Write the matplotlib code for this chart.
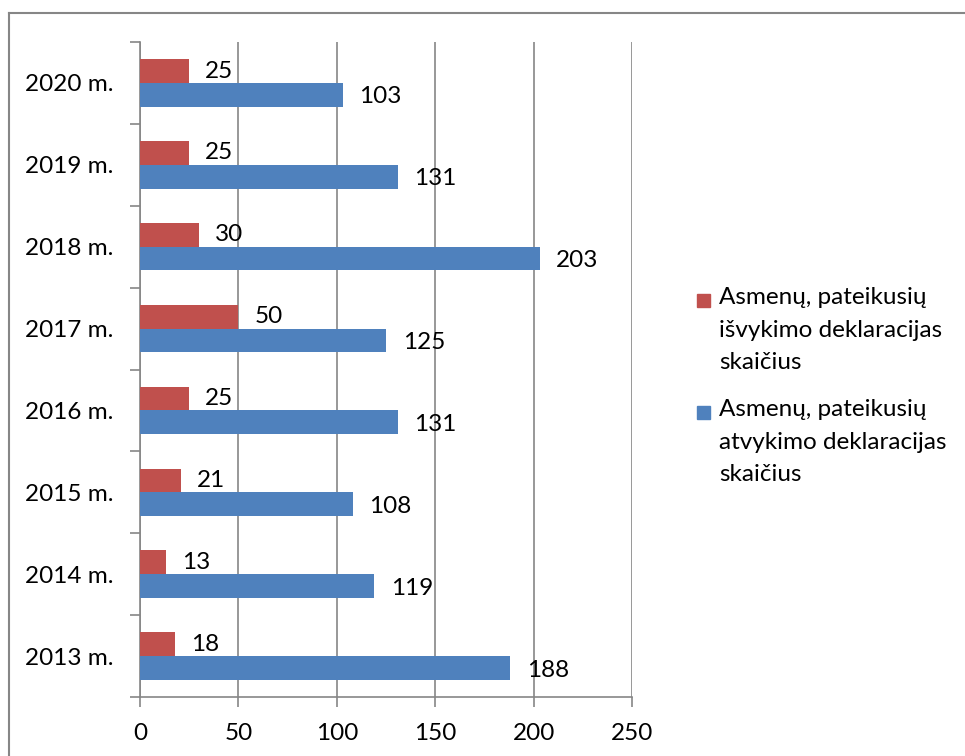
import matplotlib
matplotlib.use("Agg")
import matplotlib.pyplot as plt
import numpy as np
from matplotlib.patches import Rectangle
from matplotlib.lines import Line2D

plt.rcParams['font.family'] = ['Lato', 'DejaVu Sans']

years = ["2013 m.", "2014 m.", "2015 m.", "2016 m.", "2017 m.", "2018 m.", "2019 m.", "2020 m."]
isvykimo = [18, 13, 21, 25, 50, 30, 25, 25]
atvykimo = [188, 119, 108, 131, 125, 203, 131, 103]
legend_labels = ["Asmenų, pateikusių\nišvykimo deklaracijas\nskaičius",
                 "Asmenų, pateikusių\natvykimo deklaracijas\nskaičius"]
xticks = [0, 50, 100, 150, 200, 250]

red = "#C0504D"
blue = "#4F81BD"
grid_c = "#868686"
FS = 17.5

W, H = 965, 756
fig = plt.figure(figsize=(W / 100, H / 100), dpi=100)
# outer border
fig.add_artist(Line2D([9 / W, 9 / W], [0, 1 - 13 / H], color="#868686", lw=1.5, transform=fig.transFigure))
fig.add_artist(Line2D([9 / W, 1], [1 - 13 / H, 1 - 13 / H], color="#868686", lw=1.5, transform=fig.transFigure))

ax = fig.add_axes([140 / W, 1 - 697 / H, (632 - 140) / W, (697 - 42) / H])
y = np.arange(len(years))
h = 0.29
ax.barh(y + h / 2, isvykimo, height=h, color=red, zorder=3)
ax.barh(y - h / 2, atvykimo, height=h, color=blue, zorder=3)

for yi, v in zip(y, isvykimo):
    ax.annotate(str(v), (v, yi + h / 2), xytext=(11.5, 0), textcoords="offset points",
                va="center", ha="left", fontsize=FS)
for yi, v in zip(y, atvykimo):
    ax.annotate(str(v), (v, yi - h / 2), xytext=(12, -1.5), textcoords="offset points",
                va="center", ha="left", fontsize=FS)

ax.set_xlim(0, 250)
ax.set_ylim(-0.5, len(years) - 0.5)
ax.set_xticks(xticks)
ax.set_xticklabels([str(t) for t in xticks], fontsize=FS)
ax.set_yticks(y)
ax.set_yticklabels(years, fontsize=FS)
ax.set_yticks(np.arange(-0.5, len(years), 1), minor=True)
ax.tick_params(axis="y", which="major", length=0, pad=19)
ax.tick_params(axis="y", which="minor", length=7, color=grid_c, width=1.2)
ax.tick_params(axis="x", which="major", length=7, color=grid_c, width=1.2, pad=12)
ax.grid(axis="x", color=grid_c, lw=1.2, zorder=0)
for s in ["top", "right"]:
    ax.spines[s].set_visible(False)
for s in ["left", "bottom"]:
    ax.spines[s].set_color(grid_c)
    ax.spines[s].set_linewidth(1.2)

# legend drawn manually: square aligned with the first text line
legend_colors = [red, blue]
legend_tops = [300, 412]  # pixel y of first line centres
for col, lab, yc in zip(legend_colors, legend_labels, legend_tops):
    sq = 13
    fig.add_artist(Rectangle((697 / W, 1 - (yc + sq / 2) / H), sq / W, sq / H,
                             color=col, transform=fig.transFigure))
    fig.text(719 / W, 1 - (yc - 13) / H, lab, fontsize=FS, va="top", ha="left",
             linespacing=1.68)

fig.savefig("out.png", dpi=100)
